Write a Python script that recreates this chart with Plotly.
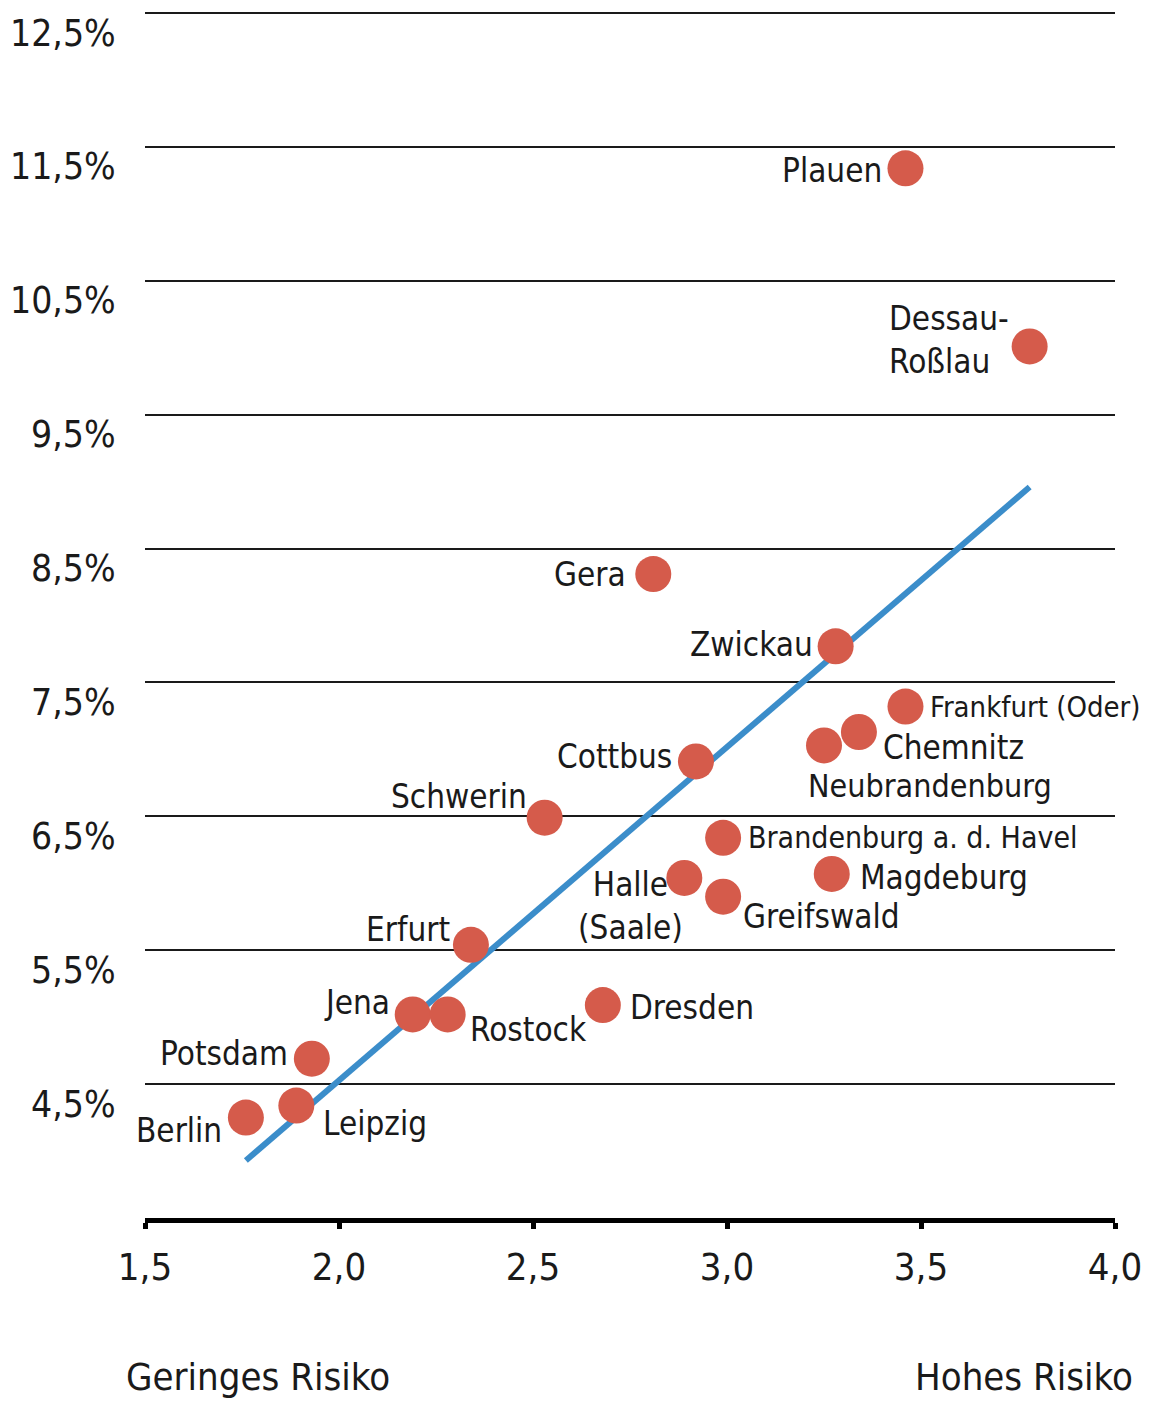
import plotly.graph_objects as go

cities = ["Plauen", "Dessau-<br>Roßlau", "Gera", "Zwickau", "Frankfurt (Oder)", "Chemnitz",
          "Neubrandenburg", "Cottbus", "Schwerin", "Brandenburg a. d. Havel", "Magdeburg",
          "Halle<br>(Saale)", "Greifswald", "Erfurt", "Dresden", "Jena", "Rostock",
          "Potsdam", "Leipzig", "Berlin"]
risk = [3.46, 3.78, 2.81, 3.28, 3.46, 3.34, 3.25, 2.92, 2.53, 2.99, 3.27,
        2.89, 2.99, 2.34, 2.68, 2.19, 2.28, 1.93, 1.89, 1.76]
rate = [11.34, 10.01, 8.31, 7.77, 7.32, 7.13, 7.03, 6.91, 6.49, 6.34, 6.07,
        6.04, 5.90, 5.54, 5.09, 5.02, 5.02, 4.69, 4.34, 4.25]

trend_x = [1.76, 3.78]
trend_y = [3.93, 8.96]

x_ticks = [1.5, 2.0, 2.5, 3.0, 3.5, 4.0]
x_tick_text = ["1,5", "2,0", "2,5", "3,0", "3,5", "4,0"]
y_ticks = [4.5, 5.5, 6.5, 7.5, 8.5, 9.5, 10.5, 11.5, 12.5]
y_tick_text = ["4,5%", "5,5%", "6,5%", "7,5%", "8,5%", "9,5%", "10,5%", "11,5%", "12,5%"]

# label placement: (xanchor, xshift px, yshift px, align, font size)
placement = {
    "Plauen": ("right", -21, -2, "left", 33),
    "Dessau-<br>Roßlau": ("right", -19, 6, "left", 33),
    "Gera": ("right", -25, 0, "left", 33),
    "Zwickau": ("right", -21, 2, "left", 33),
    "Frankfurt (Oder)": ("left", 23, 0, "left", 29),
    "Chemnitz": ("left", 22, -15, "left", 33),
    "Neubrandenburg": ("left", -18, -41, "left", 32),
    "Cottbus": ("right", -22, 5, "left", 33),
    "Schwerin": ("right", -16, 21, "left", 33),
    "Brandenburg a. d. Havel": ("left", 23, 0, "left", 30),
    "Magdeburg": ("left", 26, -4, "left", 33),
    "Halle<br>(Saale)": ("center", -54, -28, "center", 33),
    "Greifswald": ("left", 18, -20, "left", 33),
    "Erfurt": ("right", -19, 15, "left", 33),
    "Dresden": ("left", 25, -2, "left", 33),
    "Jena": ("right", -21, 12, "left", 33),
    "Rostock": ("left", 20, -15, "left", 33),
    "Potsdam": ("right", -22, 5, "left", 33),
    "Leipzig": ("left", 25, -18, "left", 33),
    "Berlin": ("right", -22, -13, "left", 33),
}

FONT = "DejaVu Sans Condensed, Liberation Sans Narrow, Arial Narrow, sans-serif"
TXT = "#1a1a1a"

fig = go.Figure()
fig.add_trace(go.Scatter(x=trend_x, y=trend_y, mode="lines",
                         line=dict(color="#3b8dca", width=6), hoverinfo="skip"))
fig.add_trace(go.Scatter(x=risk, y=rate, mode="markers",
                         marker=dict(color="#d55b4b", size=36, line=dict(width=0)),
                         text=cities, hoverinfo="text"))

for c, xv, yv in zip(cities, risk, rate):
    xa, xs, ys, al, fs = placement[c]
    fig.add_annotation(x=xv, y=yv, xref="x", yref="y", text=c, showarrow=False,
                       xanchor=xa, yanchor="middle", xshift=xs, yshift=ys, align=al,
                       font=dict(family=FONT, size=fs, color=TXT))

for v, t in zip(y_ticks, y_tick_text):
    fig.add_annotation(x=0, y=v, xref="paper", yref="y", text=t, showarrow=False,
                       xanchor="right", yanchor="middle", xshift=-27, yshift=-20,
                       font=dict(family=FONT, size=37, color=TXT))

fig.add_annotation(x=0, y=0, xref="paper", yref="paper", text="Geringes Risiko",
                   showarrow=False, xanchor="left", yanchor="middle", xshift=-21, yshift=-159,
                   font=dict(family=FONT, size=38, color=TXT))
fig.add_annotation(x=1, y=0, xref="paper", yref="paper", text="Hohes Risiko",
                   showarrow=False, xanchor="right", yanchor="middle", xshift=20, yshift=-159,
                   font=dict(family=FONT, size=38, color=TXT))

fig.update_layout(
    width=1149, height=1401,
    margin=dict(l=145, r=34, t=5, b=183),
    paper_bgcolor="white", plot_bgcolor="white",
    showlegend=False,
    xaxis=dict(range=[1.5, 4.0], tickvals=x_ticks, ticktext=x_tick_text,
               showgrid=False, zeroline=False, showline=True, linecolor="black",
               linewidth=5, ticks="outside", ticklen=6, tickwidth=5, tickcolor="black",
               ticklabelstandoff=5, automargin=False,
               tickfont=dict(family=FONT, size=38, color=TXT)),
    yaxis=dict(range=[3.5, 12.56], tickvals=y_ticks, showticklabels=False,
               showgrid=True, gridcolor="#1a1a1a", gridwidth=1.5, zeroline=False,
               showline=False, automargin=False),
)

fig.write_html("out.html", config={"displayModeBar": False},
               post_script="document.body.style.margin='0px';document.body.style.overflow='hidden';")
